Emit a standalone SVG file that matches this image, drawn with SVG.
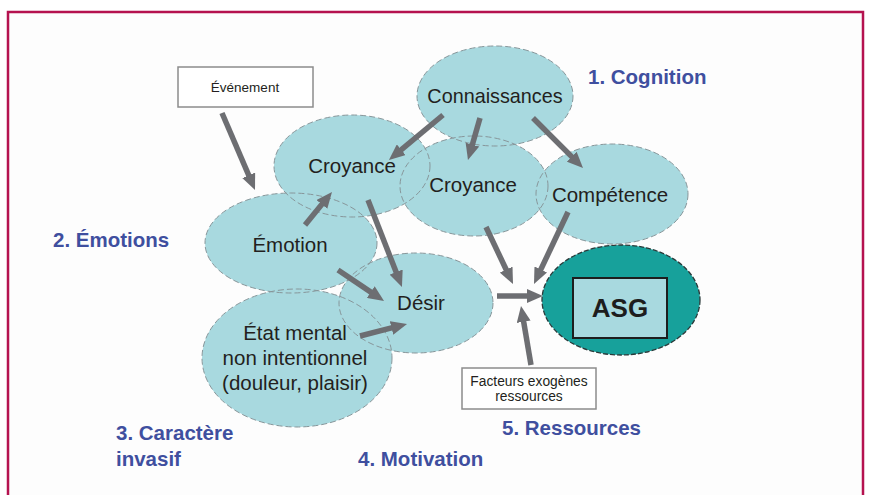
<svg xmlns="http://www.w3.org/2000/svg" xmlns:xlink="http://www.w3.org/1999/xlink" width="869" height="495" viewBox="0 0 869 495">
  <style>
    .fill { fill: #a8d9df; stroke: none; }
    .outline { fill: none; stroke: #87969a; stroke-width: 1; stroke-dasharray: 6 3; }
    .node-text { font-family: "Liberation Sans", Arial, sans-serif; font-size: 20.5px; fill: #231f20; text-anchor: middle; }
    .box { fill: #ffffff; stroke: #8c8c8c; stroke-width: 1.5; }
    .box-text { font-family: "Liberation Sans", Arial, sans-serif; font-size: 13.5px; fill: #231f20; text-anchor: middle; }
    .label { font-family: "Liberation Sans", Arial, sans-serif; font-weight: bold; font-size: 20.5px; fill: #3f4f9f; }
    .arrow { fill: none; stroke: #6d6e72; stroke-width: 5.5; marker-end: url(#head); }
  </style>
  <defs>
    <marker id="head" markerUnits="userSpaceOnUse" viewBox="0 -7 16 14" refX="1" refY="0" markerWidth="16" markerHeight="14" orient="auto">
      <path d="M0,-7 L16,0 L0,7 z" fill="#6d6e72"/>
    </marker>
    <ellipse id="e-conn" cx="495" cy="96" rx="78" ry="50"/>
    <ellipse id="e-croy1" cx="352" cy="166" rx="78" ry="51"/>
    <ellipse id="e-croy2" cx="474" cy="186" rx="74" ry="50"/>
    <ellipse id="e-comp" cx="612" cy="194" rx="76" ry="50"/>
    <ellipse id="e-emo" cx="291" cy="243" rx="86" ry="50"/>
    <ellipse id="e-desir" cx="416" cy="303" rx="77" ry="50"/>
    <ellipse id="e-etat" cx="297" cy="358" rx="95" ry="69"/>
  </defs>

  <!-- frame -->
  <rect x="0" y="0" width="869" height="495" fill="#ffffff"/>
  <rect x="8" y="12" width="855" height="500" fill="#fdfdfd" stroke="#b5124f" stroke-width="2.5"/>

  <!-- shared fills, under every outline so overlaps stay flat -->
  <g id="node-fills" class="fill">
    <use xlink:href="#e-conn"/>
    <use xlink:href="#e-croy1"/>
    <use xlink:href="#e-croy2"/>
    <use xlink:href="#e-comp"/>
    <use xlink:href="#e-emo"/>
    <use xlink:href="#e-desir"/>
    <use xlink:href="#e-etat"/>
  </g>

  <g id="connaissances">
    <use xlink:href="#e-conn" class="outline"/>
    <text class="node-text" x="495" y="103" style="font-size:19.8px">Connaissances</text>
  </g>
  <g id="croyance-1">
    <use xlink:href="#e-croy1" class="outline"/>
    <text class="node-text" x="352" y="173">Croyance</text>
  </g>
  <g id="croyance-2">
    <use xlink:href="#e-croy2" class="outline"/>
    <text class="node-text" x="473" y="192">Croyance</text>
  </g>
  <g id="competence">
    <use xlink:href="#e-comp" class="outline"/>
    <text class="node-text" x="610" y="202">Compétence</text>
  </g>
  <g id="emotion">
    <use xlink:href="#e-emo" class="outline"/>
    <text class="node-text" x="290" y="252">Émotion</text>
  </g>
  <g id="desir">
    <use xlink:href="#e-desir" class="outline"/>
    <text class="node-text" x="421" y="310">Désir</text>
  </g>
  <g id="etat-mental">
    <use xlink:href="#e-etat" class="outline"/>
    <text class="node-text" x="295" y="340">État mental</text>
    <text class="node-text" x="295" y="365">non intentionnel</text>
    <text class="node-text" x="295" y="390">(douleur, plaisir)</text>
  </g>

  <g id="asg">
    <ellipse cx="621" cy="300" rx="79" ry="55" fill="#17a19b" stroke="#2a3a3a" stroke-width="1.3" stroke-dasharray="5 2"/>
    <rect x="573" y="278" width="94" height="60" fill="#a8d9df" stroke="#1d1d1d" stroke-width="2"/>
    <text x="620" y="317" text-anchor="middle" font-family="'Liberation Sans', Arial, sans-serif" font-weight="bold" font-size="26" fill="#1d1d1d">ASG</text>
  </g>

  <g id="evenement">
    <rect class="box" x="178" y="67" width="135" height="40"/>
    <text class="box-text" x="245" y="92">Événement</text>
  </g>

  <g id="facteurs">
    <rect class="box" x="462" y="368" width="134" height="41"/>
    <text class="box-text" x="529" y="386" style="font-size:13.8px">Facteurs exogènes</text>
    <text class="box-text" x="529" y="401" style="font-size:13.8px">ressources</text>
  </g>

  <g id="connectors" class="arrow">
    <path d="M222,113 L249.1,176.2"/>
    <path d="M443,115 L400.5,150.4"/>
    <path d="M480,118 L472.1,145.6"/>
    <path d="M533,118 L572.4,157.4"/>
    <path d="M305,225 L322.5,203.6"/>
    <path d="M368,200 L396.5,273"/>
    <path d="M338,270 L371.6,292.6"/>
    <path d="M360,336 L392.5,327.7"/>
    <path d="M486,227 L506.6,270.5"/>
    <path d="M568,212 L540.4,270.4"/>
    <path d="M497,296 L528,296"/>
    <path d="M531,365 L523.5,320.8"/>
  </g>

  <g id="labels" class="label">
    <text x="588" y="84">1. Cognition</text>
    <text x="53" y="247">2. Émotions</text>
    <text x="116" y="440">3. Caractère</text>
    <text x="116" y="466">invasif</text>
    <text x="358" y="466">4. Motivation</text>
    <text x="502" y="435">5. Ressources</text>
  </g>
</svg>
